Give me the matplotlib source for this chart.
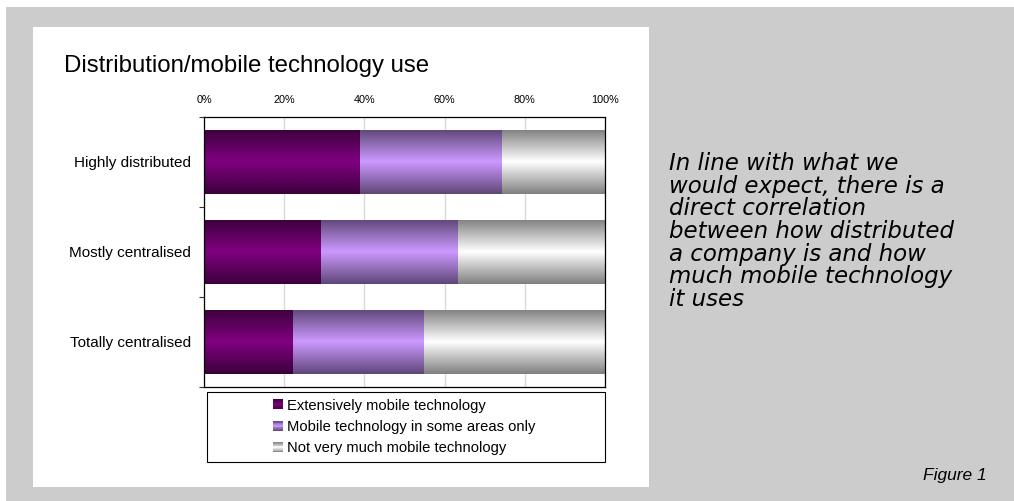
import numpy as np
import matplotlib
matplotlib.use("Agg")
import matplotlib.pyplot as plt
from matplotlib.patches import Rectangle, Patch
from matplotlib.colors import LinearSegmentedColormap
from matplotlib.legend_handler import HandlerBase

# ---------------- data ----------------
categories = ["Highly distributed", "Mostly centralised", "Totally centralised"]
series_names = ["Extensively mobile technology",
                "Mobile technology in some areas only",
                "Not very much mobile technology"]
extensive = [38.8, 29.3, 22.1]
some_areas = [35.6, 34.0, 32.7]
not_much = [25.6, 36.7, 45.2]
x_ticks = [0, 20, 40, 60, 80, 100]
x_tick_labels = ["0%", "20%", "40%", "60%", "80%", "100%"]
title = "Distribution/mobile technology use"
note_lines = ["In line with what we",
              "would expect, there is a",
              "direct correlation",
              "between how distributed",
              "a company is and how",
              "much mobile technology",
              "it uses"]
figure_label = "Figure 1"

# ---------------- style ----------------
FONT = "Liberation Sans"
plt.rcParams['font.family'] = [FONT, 'DejaVu Sans']
# (edge colour, centre colour) for gradient fills
grads = [("#3c003c", "#800080"),
         ("#5e4678", "#cc99ff"),
         ("#7f7f7f", "#ffffff")]

W, H = 1014, 501
fig = plt.figure(figsize=(W / 100, H / 100), dpi=100)
fig.patch.set_facecolor("white")

def fx(px):
    return px / W

def fy(py):
    return 1 - py / H

# grey background & white panel
fig.patches.append(Rectangle((fx(6), 0), 1 - fx(6), fy(7), transform=fig.transFigure,
                             facecolor="#cccccc", edgecolor="none", zorder=-10))
fig.patches.append(Rectangle((fx(33), fy(487)), fx(649) - fx(33), fy(27) - fy(487),
                             transform=fig.transFigure, facecolor="white",
                             edgecolor="none", zorder=-9))

ax = fig.add_axes([fx(204), fy(387), fx(605) - fx(204), fy(117) - fy(387)])
ax.set_facecolor("none")

y = np.arange(len(categories))
bar_h = 0.72
series = [extensive, some_areas, not_much]
lefts = np.zeros(len(categories))
grad = np.linspace(0, 1, 256)
grad = np.concatenate([grad, grad[::-1]]).reshape(-1, 1)
for vals, (edge, centre) in zip(series, grads):
    cmap = LinearSegmentedColormap.from_list("g", [edge, centre])
    bars = ax.barh(y, vals, left=lefts, height=bar_h, color="none",
                   edgecolor="none", zorder=2)
    for b in bars:
        x0, y0 = b.get_x(), b.get_y()
        im = ax.imshow(grad, cmap=cmap, aspect="auto",
                       extent=(x0, x0 + b.get_width(), y0, y0 + b.get_height()),
                       interpolation="bilinear", zorder=2)
        im.set_clip_path(b)
    lefts = lefts + np.array(vals)

ax.set_xlim(0, 100)
ax.set_ylim(len(categories) - 0.5, -0.5)

ax.set_xticks(x_ticks)
ax.set_xticklabels(x_tick_labels)
ax.xaxis.tick_top()
ax.tick_params(axis="x", length=0, pad=8.5, labelsize=7.8, colors="black")
ax.grid(axis="x", color="#d9d9d9", linewidth=1.0, zorder=0)
ax.set_axisbelow(True)

ax.set_yticks(y)
ax.set_yticklabels(categories)
ax.tick_params(axis="y", which="major", length=0, pad=9.4, labelsize=11)
ax.set_yticks(np.arange(-0.5, len(categories), 1.0), minor=True)
ax.tick_params(axis="y", which="minor", length=3.6, width=0.8, color="#333333")
for s in ax.spines.values():
    s.set_color("black")
    s.set_linewidth(0.9)

# title
fig.text(fx(64), fy(72), title, fontsize=17.3, ha="left", va="baseline")

# legend box
fig.patches.append(Rectangle((fx(207), fy(462)), fx(605) - fx(207), fy(392) - fy(462),
                             transform=fig.transFigure, facecolor="white",
                             edgecolor="black", linewidth=0.8, zorder=1))


class GradHandler(HandlerBase):
    def __init__(self, edge, centre, n=12):
        super().__init__()
        self.cmap = LinearSegmentedColormap.from_list("h", [edge, centre])
        self.n = n

    def create_artists(self, legend, orig_handle, xdescent, ydescent,
                       width, height, fontsize, trans):
        arts = []
        for i in range(self.n):
            t = 1 - abs((i + 0.5) / self.n - 0.5) * 2
            arts.append(Rectangle((-xdescent, -ydescent + i * height / self.n),
                                  width, height / self.n + 0.05,
                                  facecolor=self.cmap(t), edgecolor="none",
                                  transform=trans))
        return arts


handles = [Patch(label=n) for n in series_names]
hmap = {h: GradHandler(e, c) for h, (e, c) in zip(handles, grads)}
leg = fig.legend(handles=handles, labels=series_names, handler_map=hmap,
                 loc="center left", bbox_to_anchor=(fx(273), fy(427)),
                 frameon=False, fontsize=10.6, handlelength=0.66,
                 handleheight=0.66, handletextpad=0.32, labelspacing=0.5,
                 borderpad=0, borderaxespad=0)
leg.set_zorder(3)

# annotation text
for i, line in enumerate(note_lines):
    fig.text(fx(669), fy(170 + i * 22.7), line, fontsize=16.5, style="italic",
             family=["DejaVu Sans"], ha="left", va="baseline")
fig.text(fx(987), fy(480), figure_label, fontsize=12.5, style="italic",
         ha="right", va="baseline")

fig.savefig("out.png", dpi=100, facecolor=fig.get_facecolor())
